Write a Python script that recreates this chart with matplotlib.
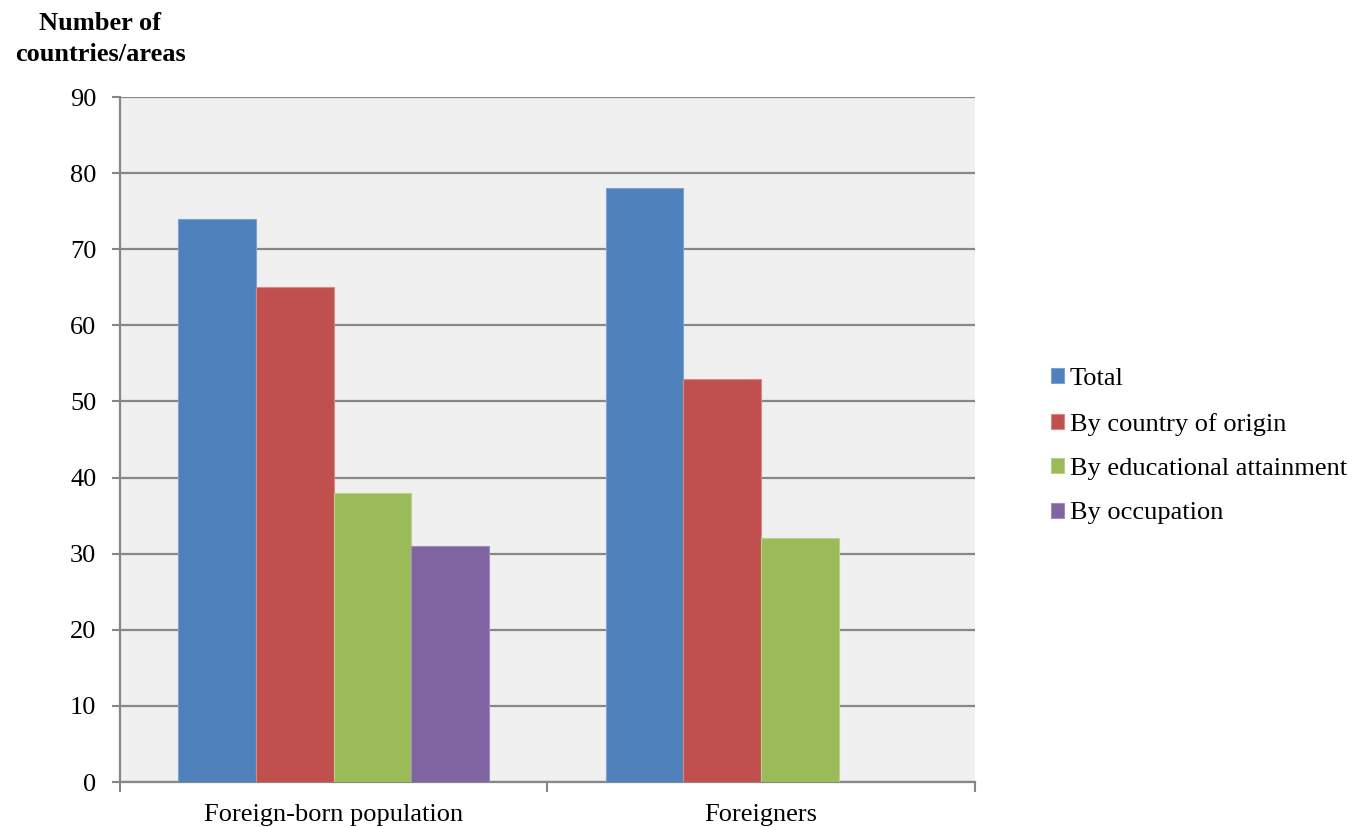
import matplotlib.pyplot as plt
import numpy as np

plt.rcParams['font.family'] = ['Liberation Serif', 'DejaVu Serif']

# data
categories = ['Foreign-born population', 'Foreigners']
series = ['Total', 'By country of origin', 'By educational attainment', 'By occupation']
values = {
    'Total': [74, 78],
    'By country of origin': [65, 53],
    'By educational attainment': [38, 32],
    'By occupation': [31, 0],
}
colors = ['#4F81BD', '#C0504D', '#9BBB59', '#8064A2']
edges = ['#7FA1D0', '#D88784', '#B9D08A', '#A08CC0']

fig = plt.figure(figsize=(13.57, 8.27), dpi=100)
ax = fig.add_axes([0.0884, 0.0544, 0.63, 0.8283])
ax.set_facecolor('#F0F0F0')

x = np.arange(len(categories))
w = 0.182
for i, s in enumerate(series):
    off = (i - 1.5) * w
    ax.bar(x + off, values[s], w, color=colors[i], edgecolor=edges[i],
           linewidth=0.8, label=s, zorder=3)

ax.set_ylim(0, 90)
ax.set_xlim(-0.5, 1.5)
ax.set_yticks(np.arange(0, 91, 10))
ax.yaxis.grid(True, color='#878787', linewidth=1.6, zorder=1)
ax.set_axisbelow(True)

# category boundary ticks
ax.set_xticks([-0.5, 0.5, 1.5])
ax.set_xticklabels([])
ax.set_xticks(x, minor=True)
ax.set_xticklabels(categories, minor=True, fontsize=19)
ax.tick_params(axis='x', which='minor', length=0, pad=16)
ax.tick_params(axis='x', which='major', length=7, width=1.5, color='#878787')
ax.tick_params(axis='y', length=6, width=1.5, color='#878787', labelsize=19, pad=11)

for side in ['top', 'right']:
    ax.spines[side].set_visible(False)
for side in ['left', 'bottom']:
    ax.spines[side].set_color('#878787')
    ax.spines[side].set_linewidth(1.6)

fig.text(0.074, 0.986, 'Number of\ncountries/areas', ha='center', va='top',
         fontsize=19, fontweight='bold', linespacing=1.45)

ax.legend(loc='center left', bbox_to_anchor=(1.077, 0.49), frameon=False,
          fontsize=19, handlelength=0.5, handleheight=0.5,
          handletextpad=0.2, labelspacing=0.85, borderaxespad=0)

fig.savefig('out.png', dpi=100)
